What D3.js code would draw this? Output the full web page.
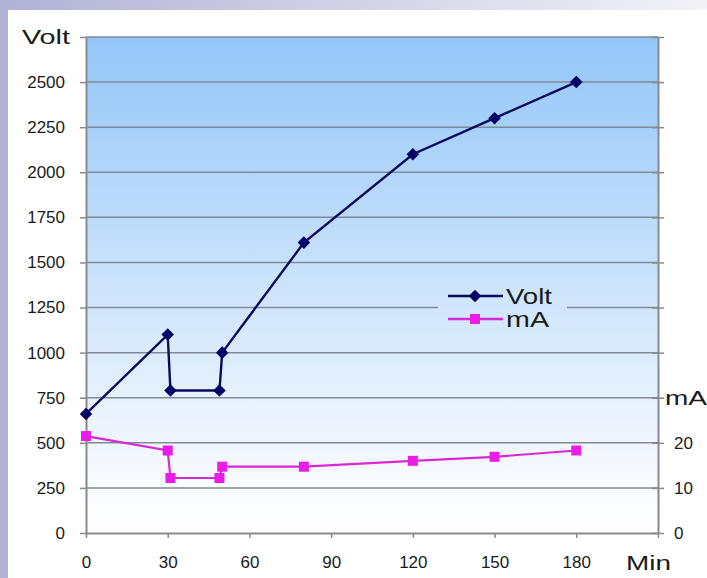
<!DOCTYPE html>
<html><head><meta charset="utf-8">
<script src="https://cdn.jsdelivr.net/npm/d3@7"></script>
<style>body{margin:0;background:#fff;}svg{display:block;font-family:"Liberation Sans",Arial,sans-serif;}</style>
</head><body>
<svg id="c" width="707" height="578"></svg>
<script>
const minutes = [0, 30, 31, 49, 50, 80, 120, 150, 180];
const voltValues = [660, 1100, 790, 790, 1000, 1610, 2100, 2300, 2500];
const mAValues = [21.5, 18.3, 12.2, 12.2, 14.7, 14.7, 16.0, 16.9, 18.3];
const xTicks = [0, 30, 60, 90, 120, 150, 180, 210];
const voltTicks = d3.range(0, 2751, 250);
const mATicks = d3.range(0, 111, 10);
const mALabelled = [0, 10, 20];

const svg = d3.select("#c");
const L = 86, R = 658, T = 37, B = 533;
const x = d3.scaleLinear().domain([0, 210]).range([L, R]);
const yV = d3.scaleLinear().domain([0, 2750]).range([B, T]);
const yA = d3.scaleLinear().domain([0, 110]).range([B, T]);

const defs = svg.append("defs");
const bandG = defs.append("linearGradient").attr("id", "band").attr("x1", 0).attr("x2", 1).attr("y1", 0).attr("y2", 0);
bandG.append("stop").attr("offset", 0).attr("stop-color", "#b2b2d6");
bandG.append("stop").attr("offset", 1).attr("stop-color", "#f2f2f7");
const bg = defs.append("linearGradient").attr("id", "bg").attr("gradientUnits", "userSpaceOnUse")
  .attr("x1", 0).attr("x2", 0).attr("y1", T).attr("y2", B);
bg.append("stop").attr("offset", 0).attr("stop-color", "#93c6f8");
bg.append("stop").attr("offset", 0.85).attr("stop-color", "#f4f8fe");
bg.append("stop").attr("offset", 1).attr("stop-color", "#ffffff");

svg.append("rect").attr("x", 0).attr("y", 0).attr("width", 707).attr("height", 10).attr("fill", "url(#band)");
svg.append("rect").attr("x", 0).attr("y", 0).attr("width", 8).attr("height", 578).attr("fill", "#b2b2d6");

svg.append("rect").attr("x", L).attr("y", T).attr("width", R - L).attr("height", B - T).attr("fill", "url(#bg)");

svg.append("g").selectAll("line").data(voltTicks.filter(d => d > 0)).join("line")
  .attr("x1", L).attr("x2", R).attr("y1", d => yV(d)).attr("y2", d => yV(d))
  .attr("stroke", "#7f8a96").attr("stroke-width", 1.5);

const axisStyle = g => {
  g.select(".domain").attr("stroke", "#8a8a8a").attr("stroke-width", 2);
  g.selectAll(".tick line").attr("stroke", "#8a8a8a").attr("stroke-width", 1.5);
  g.selectAll(".tick text").attr("fill", "#1a1a1a").attr("font-size", 17);
};

svg.append("g").attr("transform", `translate(${L},0)`)
  .call(d3.axisLeft(yV).tickValues(voltTicks).tickSize(6).tickSizeOuter(0).tickPadding(15)
    .tickFormat(d => d === 2750 ? "" : d))
  .call(axisStyle);
svg.append("g").attr("transform", `translate(${R},0)`)
  .call(d3.axisRight(yA).tickValues(mATicks).tickSizeInner(6).tickSizeOuter(0).tickPadding(10)
    .tickFormat(d => mALabelled.includes(d) ? d : ""))
  .call(axisStyle)
  .call(g => g.selectAll(".tick line").attr("x1", -6));
svg.append("g").attr("transform", `translate(0,${B})`)
  .call(d3.axisBottom(x).tickValues(xTicks).tickSize(5).tickSizeOuter(0).tickPadding(18)
    .tickFormat(d => d === 210 ? "" : d))
  .call(axisStyle);

const title = (tx, ty, w, s) => svg.append("text").attr("x", tx).attr("y", ty).attr("font-size", 21)
  .attr("fill", "#1a1a1a").attr("textLength", w).attr("lengthAdjust", "spacingAndGlyphs").text(s);
title(22, yV(2750) + 7, 48, "Volt");
title(665, yA(30) + 7, 42, "mA");
title(626, 570, 45, "Min");

const voltLine = d3.line().x((d, i) => x(minutes[i])).y(d => yV(d));
const mALine = d3.line().x((d, i) => x(minutes[i])).y(d => yA(d));
svg.append("path").attr("d", mALine(mAValues)).attr("fill", "none").attr("stroke", "#d62ad6").attr("stroke-width", 2.2);
svg.append("path").attr("d", voltLine(voltValues)).attr("fill", "none").attr("stroke", "#0a0a5e").attr("stroke-width", 2.4);

const diamond = d3.symbol().type(d3.symbolDiamond2).size(100);
const square = d3.symbol().type(d3.symbolSquare).size(100);
svg.append("g").selectAll("path").data(mAValues).join("path")
  .attr("transform", (d, i) => `translate(${x(minutes[i])},${yA(d)})`)
  .attr("d", square).attr("fill", "#e81ee8");
svg.append("g").selectAll("path").data(voltValues).join("path")
  .attr("transform", (d, i) => `translate(${x(minutes[i])},${yV(d)})`)
  .attr("d", diamond).attr("fill", "#000066");

const lg = svg.append("g");
lg.append("rect").attr("x", 438).attr("y", 281).attr("width", 129).attr("height", 52).attr("fill", "url(#bg)");
const legendItems = [
  {name: "Volt", color: "#0a0a5e", mark: "#000066", sym: diamond, y: 296, w: 46},
  {name: "mA", color: "#d62ad6", mark: "#e81ee8", sym: square, y: 319, w: 43}
];
legendItems.forEach(it => {
  lg.append("line").attr("x1", 448).attr("x2", 503).attr("y1", it.y).attr("y2", it.y)
    .attr("stroke", it.color).attr("stroke-width", 2.4);
  lg.append("path").attr("transform", `translate(475,${it.y})`).attr("d", it.sym).attr("fill", it.mark);
  lg.append("text").attr("x", 506).attr("y", it.y + 8).attr("font-size", 22).attr("fill", "#1a1a1a")
    .attr("textLength", it.w).attr("lengthAdjust", "spacingAndGlyphs").text(it.name);
});
</script>
</body></html>
